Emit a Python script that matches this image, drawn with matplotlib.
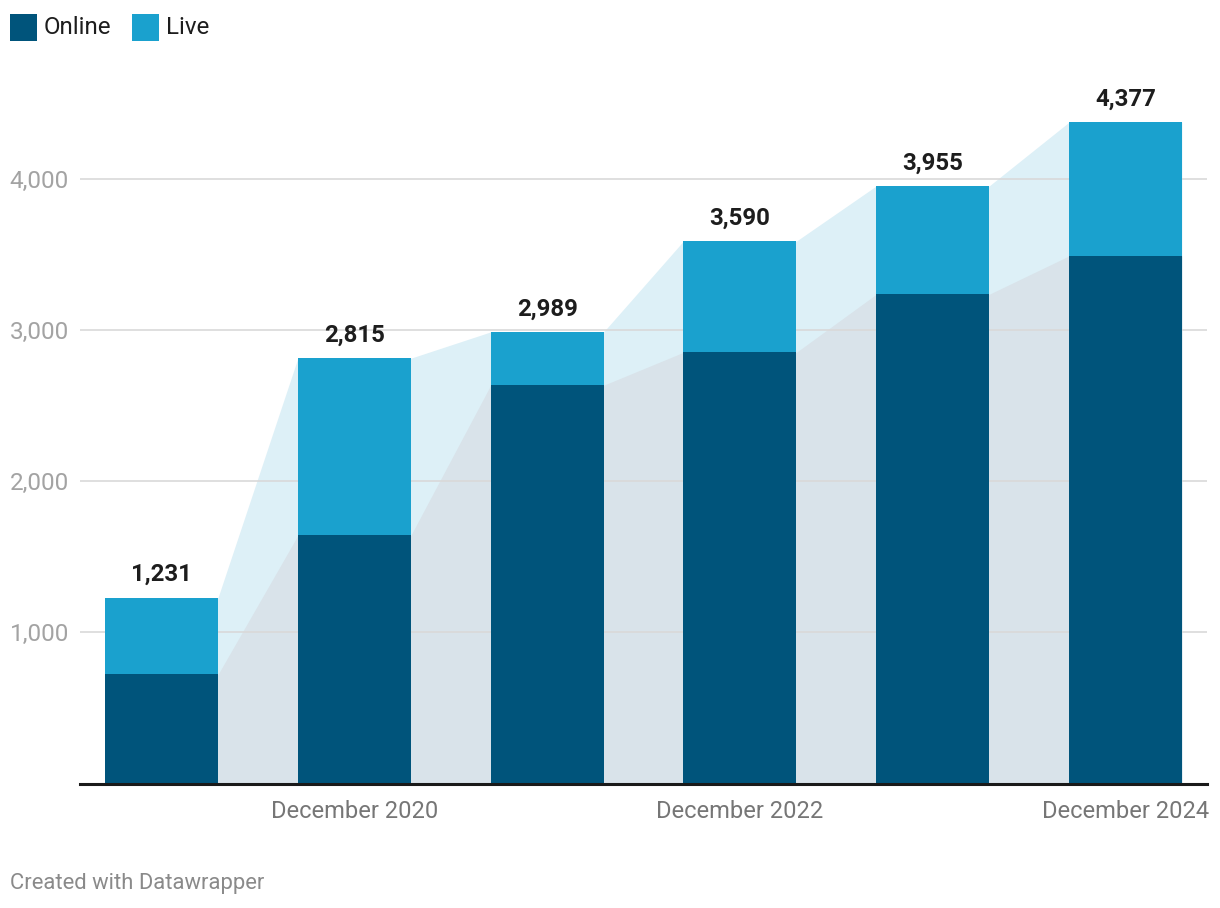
import matplotlib
matplotlib.use("Agg")
import matplotlib.pyplot as plt
import numpy as np
from matplotlib.patches import Rectangle

categories = ["December 2019", "December 2020", "December 2021", "December 2022", "December 2023", "December 2024"]
online = [722, 1642, 2636, 2854, 3238, 3492]
total = [1231, 2815, 2989, 3590, 3955, 4377]
live = [t - o for t, o in zip(total, online)]
shown_labels = ["", "December 2020", "", "December 2022", "", "December 2024"]
yticks = [1000, 2000, 3000, 4000]

plt.rcParams['font.family'] = ['Roboto', 'DejaVu Sans']

C_ONLINE = "#00547b"
C_LIVE = "#1aa1ce"
C_AREA_LIVE = "#ddf0f7"
C_AREA_ON = "#d9e3ea"

W, H = 1220, 908
fig = plt.figure(figsize=(W / 100, H / 100), dpi=100)
ax = fig.add_axes([80 / W, (H - 783.5) / H, (1207 - 80) / W, (783.5 - 90) / H])

x = np.arange(len(categories))
bw = 0.586

# connecting areas
xs = []
ys_t = []
ys_o = []
for i in x:
    xs += [i - bw / 2, i + bw / 2]
    ys_t += [total[i], total[i]]
    ys_o += [online[i], online[i]]
ax.fill_between(xs, 0, ys_t, color=C_AREA_LIVE, lw=0, zorder=1)
ax.fill_between(xs, 0, ys_o, color=C_AREA_ON, lw=0, zorder=1.1)

for yv in yticks:
    ax.axhline(yv, color="#d9d9d9", lw=1.2, zorder=1.5)

ax.bar(x, online, width=bw, color=C_ONLINE, zorder=3, lw=0)
ax.bar(x, live, bottom=online, width=bw, color=C_LIVE, zorder=3, lw=0)

for i in x:
    ax.text(i, total[i] + 75, f"{total[i]:,}", ha="center", va="bottom",
            fontsize=17.3, fontweight="bold", color="#1d1d1d", zorder=4)

ax.set_xlim(-0.423, 5.423)
ax.set_ylim(0, 4590)
for s in ["top", "right", "left"]:
    ax.spines[s].set_visible(False)
ax.spines["bottom"].set_color("#1a1a1a")
ax.spines["bottom"].set_linewidth(2.2)
ax.spines["bottom"].set_zorder(5)

ax.set_yticks(yticks)
ax.set_yticklabels([f"{v:,}" for v in yticks], fontsize=17.5, color="#a3a3a3")
ax.tick_params(axis="y", length=0, pad=8)
ax.set_xticks(x)
ax.set_xticklabels(shown_labels, fontsize=17, color="#767676")
ax.tick_params(axis="x", length=0, pad=12)

# legend
fig.patches.append(Rectangle((10 / W, 1 - 41 / H), 27 / W, 27 / H, transform=fig.transFigure,
                             color=C_ONLINE, lw=0))
fig.text(44 / W, 1 - 27.5 / H, "Online", fontsize=17.4, color="#1d1d1d", va="center", ha="left")
fig.patches.append(Rectangle((132 / W, 1 - 41 / H), 27 / W, 27 / H, transform=fig.transFigure,
                             color=C_LIVE, lw=0))
fig.text(166 / W, 1 - 27.5 / H, "Live", fontsize=17.4, color="#1d1d1d", va="center", ha="left")

fig.text(10 / W, 1 - 883 / H, "Created with Datawrapper", fontsize=15.8, color="#8a8a8a",
         va="center", ha="left")

fig.savefig("out.png", dpi=100, facecolor="white")
